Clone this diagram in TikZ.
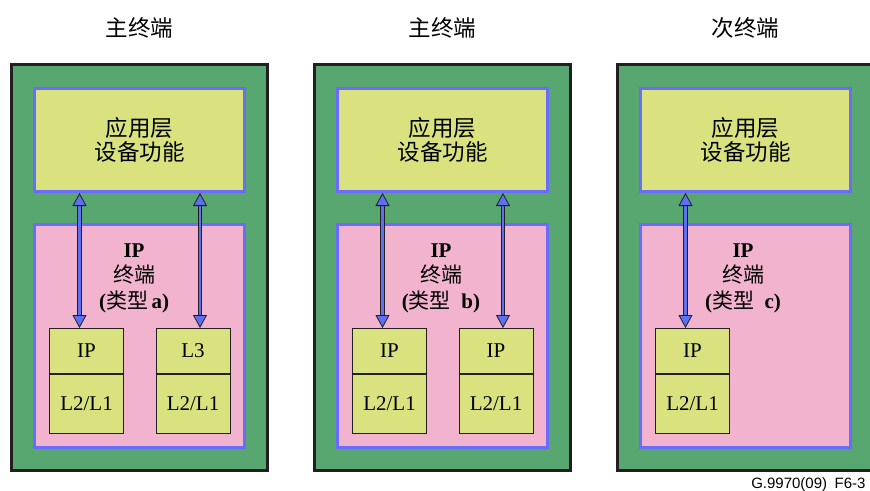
\documentclass[tikz,border=0pt]{standalone}
\usepackage{fontspec}
\setmainfont{Liberation Serif}
\setsansfont{Liberation Sans}
\newfontfamily\cjk{Noto Sans CJK SC}
\usetikzlibrary{arrows.meta}

\definecolor{termgreen}{RGB}{88,166,112}
\definecolor{framedark}{RGB}{35,31,32}
\definecolor{appyellow}{RGB}{217,226,127}
\definecolor{netpink}{RGB}{242,179,207}
\definecolor{bordblue}{RGB}{107,107,255}
\definecolor{arrowblue}{RGB}{92,112,240}

\tikzset{
  terminal/.style={draw=framedark, line width=3pt, fill=termgreen, minimum width=256pt, minimum height=406pt},
  appbox/.style={draw=bordblue, line width=3pt, fill=appyellow, minimum width=210pt, minimum height=103pt, align=center, font=\cjk\fontsize{22.5}{23.5}\selectfont},
  netbox/.style={draw=bordblue, line width=3pt, fill=netpink, minimum width=210pt, minimum height=223pt},
  celltop/.style={draw=framedark, line width=1pt, fill=appyellow, minimum width=74pt, minimum height=45pt, font=\fontsize{21}{24}\selectfont},
  cellbot/.style={draw=framedark, line width=1pt, fill=appyellow, minimum width=74pt, minimum height=59pt, font=\fontsize{21}{24}\selectfont},
  nettext/.style={align=center, font=\fontsize{21}{25.5}\selectfont},
  headline/.style={font=\cjk\fontsize{22.5}{24}\selectfont},
  shaft/.style={draw=framedark, line width=0.8pt, double=arrowblue, double distance=2.8pt, shorten >=10pt, shorten <=10pt},
  tipline/.style={draw=arrowblue, line width=0.8pt,
    {Triangle[length=13pt, width=14pt, color=framedark, fill=arrowblue]}-{Triangle[length=13pt, width=14pt, color=framedark, fill=arrowblue]}}
}

% arrow with heads at both ends
\newcommand{\biarrow}[2]{%
  \draw[shaft] #1 -- #2;
  \draw[tipline] #1 -- #2;}

\begin{document}
\begin{tikzpicture}[x=1pt, y=-1pt]
\useasboundingbox (0,0) rectangle (870,490);

% titles
\node[headline] (head1) at (139.5,28) {主终端};
\node[headline] (head2) at (442.5,28) {主终端};
\node[headline] (head3) at (745.5,28) {次终端};

% terminals
\node[terminal] (term1) at (139.5,267.5) {};
\node[terminal] (term2) at (442.5,267.5) {};
\node[terminal] (term3) at (745.5,267.5) {};

\node[appbox] (app1) at (139.5,140) {应用层\\设备功能};
\node[appbox] (app2) at (442.5,140) {应用层\\设备功能};
\node[appbox] (app3) at (745.5,140) {应用层\\设备功能};

\node[netbox] (net1) at (139.5,336) {};
\node[netbox] (net2) at (442.5,336) {};
\node[netbox] (net3) at (745.5,336) {};

\node[nettext] (type1) at (134,278) {\textbf{IP}\\{\cjk 终端}\\\textbf{(}{\cjk 类型}\,\textbf{a)}};
\node[nettext] (type2) at (441,278) {\textbf{IP}\\{\cjk 终端}\\\textbf{(}{\cjk 类型}\enspace\textbf{b)}};
\node[nettext] (type3) at (743,278) {\textbf{IP}\\{\cjk 终端}\\\textbf{(}{\cjk 类型}\enspace\textbf{c)}};

% protocol stacks
\node[celltop] (ipa1) at (86.5,351) {IP};
\node[cellbot] (lla1) at (86.5,404) {L2/L1};
\node[celltop] (ipb1) at (193,351) {L3};
\node[cellbot] (llb1) at (193,404) {L2/L1};

\node[celltop] (ipa2) at (389.5,351) {IP};
\node[cellbot] (lla2) at (389.5,404) {L2/L1};
\node[celltop] (ipb2) at (496,351) {IP};
\node[cellbot] (llb2) at (496,404) {L2/L1};

\node[celltop] (ipa3) at (692.5,351) {IP};
\node[cellbot] (lla3) at (692.5,404) {L2/L1};

% links
\biarrow{([xshift=-7pt]ipa1.north)}{([xshift=-7pt]ipa1.north |- app1.south)}
\biarrow{([xshift=7pt]ipb1.north)}{([xshift=7pt]ipb1.north |- app1.south)}
\biarrow{([xshift=-7pt]ipa2.north)}{([xshift=-7pt]ipa2.north |- app2.south)}
\biarrow{([xshift=7pt]ipb2.north)}{([xshift=7pt]ipb2.north |- app2.south)}
\biarrow{([xshift=-7pt]ipa3.north)}{([xshift=-7pt]ipa3.north |- app3.south)}

\node[anchor=base east, font=\sffamily\fontsize{15}{17}\selectfont] (figno) at (869,488) {G.9970(09)\enspace F6-3};
\end{tikzpicture}
\end{document}
